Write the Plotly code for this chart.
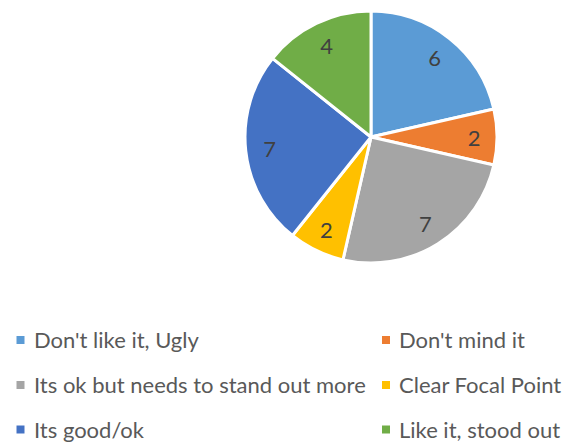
import plotly.graph_objects as go

labels = ["Don't like it, Ugly", "Don't mind it", "Its ok but needs to stand out more",
          "Clear Focal Point", "Its good/ok", "Like it, stood out"]
values = [6, 2, 7, 2, 7, 4]
colors = ["#5B9BD5", "#ED7D31", "#A5A5A5", "#FFC000", "#4472C4", "#70AD47"]

W, H = 566, 442
FONT = "Lato"
dom = dict(x=[245 / W, 497 / W], y=[1 - 264 / H, 1 - 10 / H])

fig = go.Figure()
# the visible pie
fig.add_trace(go.Pie(
    labels=labels, values=values, sort=False, direction="clockwise", rotation=0,
    marker=dict(colors=colors, line=dict(color="white", width=3)),
    textinfo="none", showlegend=False, hoverinfo="label+value", domain=dom,
))
# transparent ring on top that only carries the value labels, placed further out
fig.add_trace(go.Pie(
    labels=labels, values=values, sort=False, direction="clockwise", rotation=0, hole=0.62,
    marker=dict(colors=["rgba(0,0,0,0)"] * len(values), line=dict(width=0)),
    textinfo="value", textposition="inside", insidetextorientation="horizontal",
    textfont=dict(family=FONT, size=22, color="#404040"),
    showlegend=False, hoverinfo="skip", domain=dom,
))

# legend drawn as annotations + squares (2 columns, 3 rows)
col_x = [20.5, 386]
row_y = [340, 385, 429.5]
for i, (lab, col) in enumerate(zip(labels, colors)):
    cx = col_x[i % 2]
    cy = row_y[i // 2]
    fig.add_shape(type="rect", xref="paper", yref="paper",
                  x0=(cx - 4) / W, x1=(cx + 4) / W,
                  y0=1 - (cy + 4) / H, y1=1 - (cy - 4) / H,
                  fillcolor=col, line=dict(width=0))
    fig.add_annotation(xref="paper", yref="paper", x=(cx + 12) / W, y=1 - (cy - 0.5) / H,
                       xanchor="left", yanchor="middle", showarrow=False, text=lab,
                       borderpad=0,
                       font=dict(family=FONT, size=22, color="#595959"))

fig.update_layout(width=W, height=H, margin=dict(l=0, r=0, t=0, b=0),
                  paper_bgcolor="white", plot_bgcolor="white")
fig.write_html("out.html", config={"displayModeBar": False},
               post_script="document.body.style.margin='0';")
